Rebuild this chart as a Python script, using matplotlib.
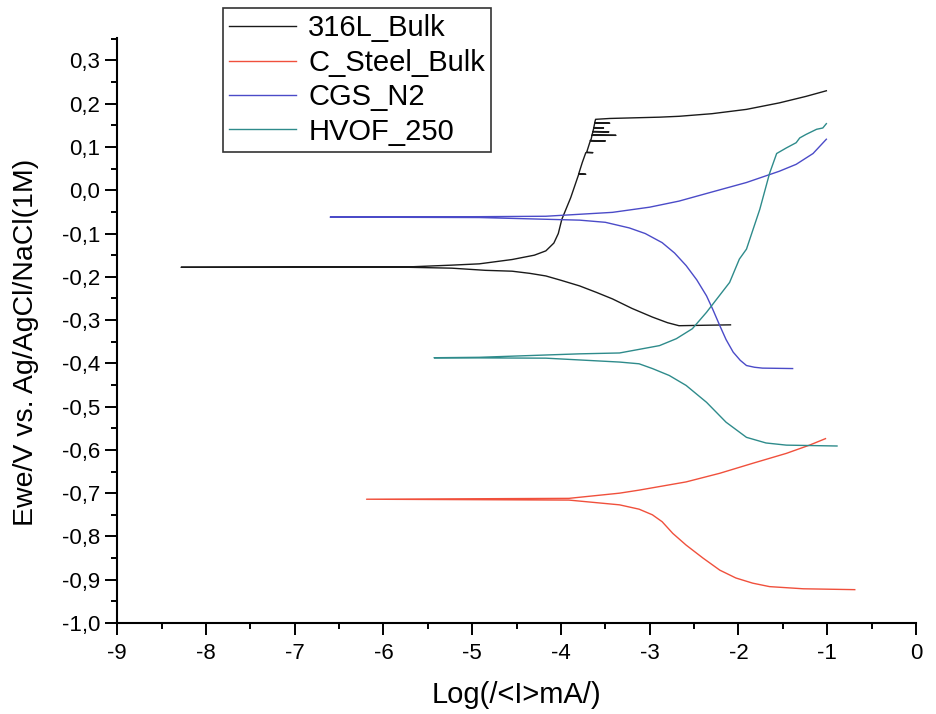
import numpy as np
import matplotlib
matplotlib.use("Agg")
import matplotlib.pyplot as plt
from matplotlib.ticker import MultipleLocator, FuncFormatter

# Tafel curves, swept from the cathodic end through E_corr to the anodic end
log_i_316 = [-2.09, -2.40, -2.67, -2.80, -2.97, -3.20, -3.42, -3.60, -3.79, -4.00, -4.17, -4.35,
             -4.55, -4.85, -5.23, -5.71, -8.28, -5.71, -5.23, -4.92, -4.55, -4.30, -4.17, -4.08,
             -4.03, -3.99, -3.89,
             -3.80, -3.72, -3.80, -3.76, -3.72, -3.64, -3.71, -3.67, -3.50, -3.67,
             -3.66, -3.65, -3.38, -3.65, -3.64, -3.46, -3.64, -3.63, -3.52, -3.63,
             -3.62, -3.45, -3.62, -3.61, -3.45, -2.89, -2.67, -2.30, -1.91, -1.54, -1.24, -1.01]
e_316 = [-0.311, -0.312, -0.313, -0.306, -0.293, -0.273, -0.251, -0.236, -0.221, -0.208, -0.198, -0.192,
         -0.187, -0.185, -0.180, -0.178, -0.178, -0.177, -0.173, -0.170, -0.160, -0.150, -0.140, -0.122,
         -0.100, -0.067, -0.017,
         0.037, 0.037, 0.038, 0.064, 0.087, 0.087, 0.088, 0.114, 0.114, 0.115,
         0.118, 0.127, 0.127, 0.128, 0.135, 0.135, 0.136, 0.144, 0.144, 0.145,
         0.155, 0.155, 0.156, 0.164, 0.166, 0.169, 0.171, 0.177, 0.187, 0.202, 0.217, 0.230]

log_i_cst = [-0.69, -1.27, -1.65, -1.84, -2.03, -2.21, -2.40, -2.59, -2.74, -2.86, -2.97, -3.12,
             -3.34, -3.91, -6.19, -3.91, -3.34, -3.12, -2.59, -2.21, -1.84, -1.46, -1.20, -1.02]
e_cst = [-0.923, -0.921, -0.916, -0.908, -0.896, -0.878, -0.850, -0.820, -0.793, -0.766, -0.750, -0.737,
         -0.727, -0.716, -0.714, -0.712, -0.700, -0.693, -0.674, -0.654, -0.631, -0.608, -0.589, -0.574]

log_i_cgs = [-1.39, -1.73, -1.82, -1.91, -1.98, -2.06, -2.14, -2.21, -2.29, -2.36, -2.47, -2.59,
             -2.72, -2.86, -3.05, -3.23, -3.50, -3.79, -4.92, -6.60, -4.92, -4.17, -3.42, -3.00,
             -2.67, -2.30, -1.91, -1.54, -1.35, -1.16, -1.01]
e_cgs = [-0.412, -0.411, -0.409, -0.405, -0.393, -0.374, -0.345, -0.313, -0.275, -0.244, -0.207, -0.174,
         -0.145, -0.121, -0.100, -0.087, -0.074, -0.069, -0.063, -0.062, -0.061, -0.060, -0.051, -0.039,
         -0.025, -0.004, 0.018, 0.044, 0.060, 0.085, 0.118]

log_i_hvof = [-0.89, -1.46, -1.69, -1.91, -2.14, -2.36, -2.59, -2.78, -2.97, -3.12, -3.34, -4.17,
              -5.43, -4.92, -3.79, -3.34, -2.89, -2.70, -2.52, -2.36, -2.10, -1.99, -1.91, -1.76,
              -1.65, -1.57, -1.46, -1.35, -1.31, -1.24, -1.12, -1.05, -1.01]
e_hvof = [-0.591, -0.589, -0.584, -0.571, -0.536, -0.490, -0.451, -0.428, -0.412, -0.401, -0.397, -0.388,
          -0.387, -0.386, -0.378, -0.376, -0.359, -0.343, -0.320, -0.282, -0.213, -0.159, -0.136, -0.044,
          0.039, 0.085, 0.098, 0.110, 0.121, 0.129, 0.141, 0.144, 0.154]

series = [
    ("316L_Bulk", log_i_316, e_316, "#1a1a1a"),
    ("C_Steel_Bulk", log_i_cst, e_cst, "#f0503c"),
    ("CGS_N2", log_i_cgs, e_cgs, "#4b4bc8"),
    ("HVOF_250", log_i_hvof, e_hvof, "#2e8b8b"),
]

plt.rcParams.update({"font.family": ["Liberation Sans", "DejaVu Sans"]})
fig = plt.figure(figsize=(9.37, 7.14), dpi=100)
ax = fig.add_axes([0.125, 0.1275, 0.8526, 0.8193])

for name, x, y, c in series:
    ax.plot(x, y, color=c, lw=1.0, label=name)

ax.set_xlim(-9, 0)
ax.set_ylim(-1.0, 0.352)
ax.spines["top"].set_visible(False)
ax.spines["right"].set_visible(False)
for s in ("left", "bottom"):
    ax.spines[s].set_linewidth(1.5)

ax.xaxis.set_major_locator(MultipleLocator(1))
ax.xaxis.set_minor_locator(MultipleLocator(0.5))
ax.yaxis.set_major_locator(MultipleLocator(0.1))
ax.yaxis.set_minor_locator(MultipleLocator(0.05))
ax.xaxis.set_major_formatter(FuncFormatter(lambda v, p: f"{v:.0f}".replace("\u2212", "-")))
ax.yaxis.set_major_formatter(FuncFormatter(
    lambda v, p: f"{v:.1f}".replace(".", ",").replace("-0,0", "0,0")))
ax.tick_params(which="major", direction="out", length=8.5, width=1.4, labelsize=16, pad=3.5)
ax.tick_params(axis="x", which="major", pad=6)
ax.tick_params(which="minor", direction="out", length=4.5, width=1.4)

ax.set_xlabel("Log(/<I>mA/)", fontsize=21, labelpad=12)
ax.set_ylabel("Ewe/V vs. Ag/AgCl/NaCl(1M)", fontsize=20.5)
ax.yaxis.set_label_coords(-0.098, 0.479)

leg = fig.legend(loc="upper left", bbox_to_anchor=(223 / 937, 1 - 8 / 714),
                 fontsize=21, frameon=True, fancybox=False, framealpha=1,
                 edgecolor="#333333", borderpad=0.22, labelspacing=0.22,
                 handlelength=2.3, handletextpad=0.4, borderaxespad=0)
leg.get_frame().set_linewidth(1.2)

fig.savefig("out.png", dpi=100)
